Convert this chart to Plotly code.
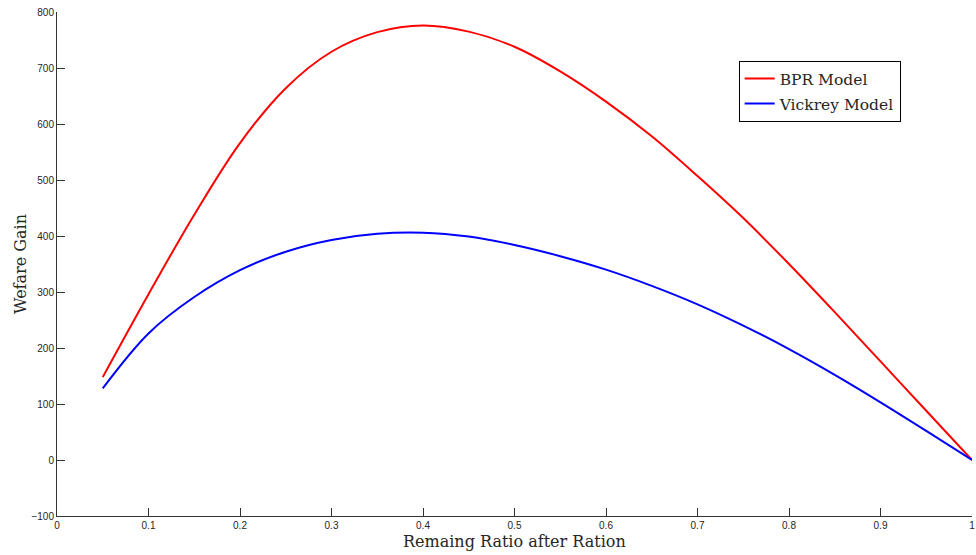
import plotly.graph_objects as go

ratio = [0.05, 0.10, 0.15, 0.20, 0.25, 0.30, 0.35, 0.40, 0.45, 0.50,
         0.55, 0.60, 0.65, 0.70, 0.75, 0.80, 0.85, 0.90, 0.95, 1.00]
bpr_gain = [148, 296, 438, 566, 664, 729, 764, 776, 765, 738,
            694, 640, 578, 507, 432, 350, 264, 176, 88, 0]
vickrey_gain = [128, 226, 291, 339, 372, 393, 404, 406, 399, 384,
                364, 340, 311, 278, 240, 198, 152, 103, 52, 0]

x_ticks = [0, 0.1, 0.2, 0.3, 0.4, 0.5, 0.6, 0.7, 0.8, 0.9, 1]
x_tick_labels = ["0", "0.1", "0.2", "0.3", "0.4", "0.5", "0.6", "0.7", "0.8", "0.9", "1"]
y_ticks = [-100, 0, 100, 200, 300, 400, 500, 600, 700, 800]

serif = "DejaVu Serif, Liberation Serif, serif"

fig = go.Figure()
fig.add_trace(go.Scatter(x=ratio, y=bpr_gain, mode="lines", name="BPR Model",
                         legendgroup="a",
                         line=dict(color="#ff0000", width=2, shape="spline", smoothing=1.0)))
fig.add_trace(go.Scatter(x=ratio, y=vickrey_gain, mode="lines", name="Vickrey Model",
                         legendgroup="b",
                         line=dict(color="#0000ff", width=2, shape="spline", smoothing=1.0)))

axis_common = dict(showgrid=False, zeroline=False, showline=True, linecolor="#333333",
                   linewidth=1, ticks="inside", ticklen=8, tickcolor="#333333",
                   tickfont=dict(family="Liberation Sans, Arial", size=10, color="#262626"),
                   mirror=False, automargin=False, ticklabeloverflow="allow")

fig.update_layout(
    width=976, height=555,
    margin=dict(l=57, r=4, t=12, b=39),
    plot_bgcolor="white", paper_bgcolor="white",
    xaxis=dict(range=[0, 1], tickvals=x_ticks, ticktext=x_tick_labels, **axis_common),
    yaxis=dict(range=[-100, 800], tickvals=y_ticks, **axis_common),
    legend=dict(x=0.745, y=0.903, xanchor="left", yanchor="top",
                bordercolor="black", borderwidth=1, bgcolor="white",
                font=dict(family=serif, size=15.5, color="#262626"),
                itemwidth=30, tracegroupgap=2, traceorder="grouped"),
    showlegend=True,
    annotations=[
        dict(text="Remaing Ratio after Ration", xref="paper", yref="paper",
             x=0.5, y=0, yshift=-25, xanchor="center", yanchor="middle", showarrow=False,
             font=dict(family=serif, size=16, color="#262626")),
        dict(text="Wefare Gain", xref="paper", yref="paper",
             x=0, y=0.5, xshift=-37, xanchor="center", yanchor="middle", showarrow=False,
             textangle=-90,
             font=dict(family=serif, size=16, color="#262626")),
    ],
)

fig.write_html("out.html", config={"displayModeBar": False},
               post_script="document.body.style.margin='0';document.body.style.padding='0';document.body.style.overflow='hidden';")
